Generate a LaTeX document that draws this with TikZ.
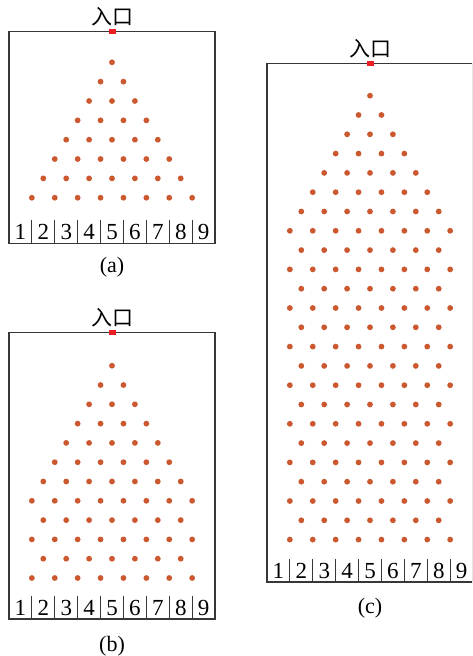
\documentclass[tikz,border=0pt]{standalone}
\usepackage{fontspec}
\setmainfont{Liberation Serif}
\newfontfamily\cjk{Noto Sans CJK SC}
\usepackage{xcolor}
\usepackage{tikz}
\definecolor{pegcolor}{RGB}{204,88,48}
\definecolor{gatecolor}{RGB}{235,30,35}
\definecolor{framecolor}{RGB}{55,55,55}
\tikzstyle{frame} = [draw=framecolor, line width=0.7pt]
\tikzstyle{binline} = [draw=framecolor, line width=0.5pt]
\tikzstyle{peg} = [fill=pegcolor]
\tikzstyle{gate} = [fill=gatecolor, draw=none, minimum width=3.5pt, minimum height=2.4pt, inner sep=0pt]
\tikzstyle{entry} = [font=\cjk\fontsize{10.5}{11}\selectfont, inner sep=0pt]
\tikzstyle{binnum} = [font=\fontsize{11.5}{12}\selectfont, inner sep=0pt]
\tikzstyle{caption} = [font=\fontsize{11}{12}\selectfont, inner sep=0pt]

\begin{document}
\begin{tikzpicture}[x=0.5pt, y=-0.5pt]
\useasboundingbox (0,0) rectangle (472,656);
\clip (0,0) rectangle (472,656);

\draw[frame] (9,31.5) rectangle (215,243.5);
\node[gate] (gatea) at (112,31.6) {};
\node[entry] (entrya) at (112,16.5) {入口};
\foreach \r in {0,...,7}
  \foreach \j in {0,...,\r}
    \fill[peg] ({112+(\j-\r/2)*22.9},{62.3+\r*19.35}) circle (2.9);
\foreach \k in {1,...,8}
  \draw[binline] ({9+\k*22.9},220) -- ({9+\k*22.9},243.5);
\foreach \k in {1,...,9}
  \node[binnum] (bina\k) at ({9+(\k-0.5)*22.9},232.3) {\k};
\node[caption] (capa) at (112,267) {(a)};

\draw[frame] (9,332.5) rectangle (215,619);
\node[gate] (gateb) at (112,332.6) {};
\node[entry] (entryb) at (112,317.5) {入口};
\foreach \r in {0,...,7}
  \foreach \j in {0,...,\r}
    \fill[peg] ({112+(\j-\r/2)*22.9},{365.7+\r*19.3}) circle (2.9);
\foreach \r in {8,10}
  \foreach \j in {-3,...,3}
    \fill[peg] ({112+\j*22.9},{365.7+\r*19.3}) circle (2.9);
\foreach \r in {9,11}
  \foreach \j in {-3.5,-2.5,...,3.5}
    \fill[peg] ({112+\j*22.9},{365.7+\r*19.3}) circle (2.9);
\foreach \k in {1,...,8}
  \draw[binline] ({9+\k*22.9},595.5) -- ({9+\k*22.9},619);
\foreach \k in {1,...,9}
  \node[binnum] (binb\k) at ({9+(\k-0.5)*22.9},607.6) {\k};
\node[caption] (capb) at (112,646) {(b)};

\draw[frame] (267,63.3) rectangle (473,582);
\node[gate] (gatec) at (370,63.4) {};
\node[entry] (entryc) at (370,48.5) {入口};
\foreach \r in {0,...,7}
  \foreach \j in {0,...,\r}
    \fill[peg] ({370+(\j-\r/2)*22.9},{95.7+\r*19.3}) circle (2.9);
\foreach \r in {8,10,...,22}
  \foreach \j in {-3,...,3}
    \fill[peg] ({370+\j*22.9},{95.7+\r*19.3}) circle (2.9);
\foreach \r in {9,11,...,23}
  \foreach \j in {-3.5,-2.5,...,3.5}
    \fill[peg] ({370+\j*22.9},{95.7+\r*19.3}) circle (2.9);
\foreach \k in {1,...,8}
  \draw[binline] ({267+\k*22.9},559) -- ({267+\k*22.9},582);
\foreach \k in {1,...,9}
  \node[binnum] (binc\k) at ({267+(\k-0.5)*22.9},570.6) {\k};
\node[caption] (capc) at (370,608) {(c)};
\end{tikzpicture}
\end{document}
